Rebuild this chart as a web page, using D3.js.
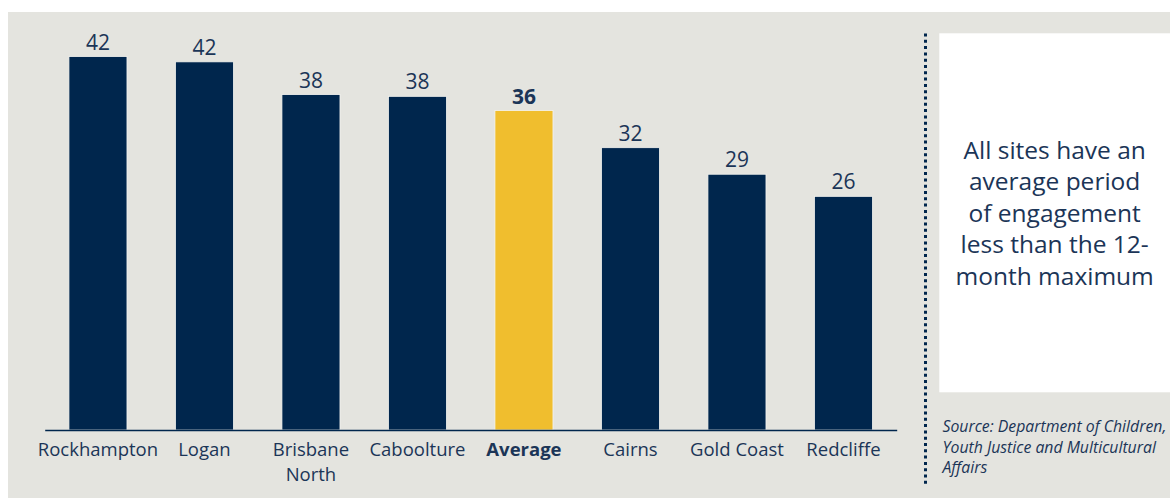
<!DOCTYPE html>
<html>
<head>
<meta charset="utf-8">
<script src="https://cdn.jsdelivr.net/npm/d3@7"></script>
<style>
  html, body { margin: 0; padding: 0; background: #ffffff; }
  svg { display: block; }
  text { font-family: "Open Sans", "Noto Sans", sans-serif; }
</style>
</head>
<body>
<svg id="chart" width="1170" height="498"></svg>
<script>
// Average period of engagement by site
const sites = ["Rockhampton", "Logan", "Brisbane North", "Caboolture", "Average", "Cairns", "Gold Coast", "Redcliffe"];
const engagement = [42.2, 41.6, 37.9, 37.7, 36.1, 31.9, 28.9, 26.4];
const highlightSite = "Average";

const calloutLines = ["All sites have an", "average period", "of engagement", "less than the 12-", "month maximum"];
const sourceLines = ["Source: Department of Children,", "Youth Justice and Multicultural", "Affairs"];

const navy = "#00264d";
const textNavy = "#1b3557";
const gold = "#f0be2e";
const panelBg = "#e4e4df";

const svg = d3.select("#chart");

// panel background
svg.append("rect").attr("x", 8).attr("y", 12).attr("width", 1162).attr("height", 486).attr("fill", panelBg);

const baseY = 430;
const x = d3.scaleBand().domain(sites).range([44.7, 896.7]).paddingInner(0.455).paddingOuter(0.2275);
const y = d3.scaleLinear().domain([0, 45]).range([baseY, baseY - 45 * 8.85]);

const data = sites.map((s, i) => ({ site: s, value: engagement[i] }));

svg.append("g").selectAll("rect").data(data).join("rect")
  .attr("x", d => x(d.site))
  .attr("y", d => y(d.value))
  .attr("width", x.bandwidth())
  .attr("height", d => y(0) - y(d.value))
  .attr("fill", d => d.site === highlightSite ? gold : navy)
  .attr("stroke", "#f4f4f0")
  .attr("stroke-width", 0.8);

// value labels
const fmt = d3.format(".0f");
svg.append("g").selectAll("text").data(data).join("text")
  .attr("x", d => x(d.site) + x.bandwidth() / 2)
  .attr("y", d => y(d.value) - 7)
  .attr("text-anchor", "middle")
  .attr("font-size", 21)
  .attr("font-weight", d => d.site === highlightSite ? 700 : 400)
  .attr("fill", textNavy)
  .text(d => fmt(d.value));

// category axis
const axis = svg.append("g").attr("transform", `translate(0,${baseY})`)
  .call(d3.axisBottom(x).tickSize(0).tickSizeOuter(0).tickFormat(""));
axis.select(".domain").attr("stroke", navy).attr("stroke-width", 1.5);

// category labels, long names wrapped onto two lines
const catLines = [];
sites.forEach(s => {
  const parts = s === "Brisbane North" ? ["Brisbane", "North"] : [s];
  parts.forEach((p, i) => catLines.push({ site: s, text: p, line: i }));
});
svg.append("g").selectAll("text").data(catLines).join("text")
  .attr("x", d => x(d.site) + x.bandwidth() / 2)
  .attr("y", d => 456 + d.line * 25)
  .attr("text-anchor", "middle")
  .attr("font-size", 18.5)
  .attr("font-weight", d => d.site === highlightSite ? 700 : 400)
  .attr("fill", textNavy)
  .text(d => d.text);

// dotted divider
svg.append("line")
  .attr("x1", 925.5).attr("x2", 925.5).attr("y1", 33.5).attr("y2", 484)
  .attr("stroke", navy).attr("stroke-width", 3).attr("stroke-dasharray", "3,3.3");

// callout box
const boxX = 939.3, boxY = 33.3, boxW = 1170 - 939.3, boxH = 392.3 - 33.3;
svg.append("rect").attr("x", boxX).attr("y", boxY).attr("width", boxW).attr("height", boxH).attr("fill", "#ffffff");

const lineH = 31.5;
const firstBase = boxY + boxH / 2 - (calloutLines.length - 1) * lineH / 2 + 9;
svg.append("text")
  .attr("text-anchor", "middle")
  .attr("font-size", 24.5)
  .attr("fill", textNavy)
  .selectAll("tspan").data(calloutLines).join("tspan")
  .attr("x", boxX + boxW / 2)
  .attr("y", (d, i) => firstBase + i * lineH)
  .text(d => d);

// source note
svg.append("text")
  .attr("font-size", 15.8)
  .attr("font-style", "italic")
  .attr("fill", textNavy)
  .selectAll("tspan").data(sourceLines).join("tspan")
  .attr("x", 942.5)
  .attr("y", (d, i) => 432 + i * 20.5)
  .text(d => d);
</script>
</body>
</html>
